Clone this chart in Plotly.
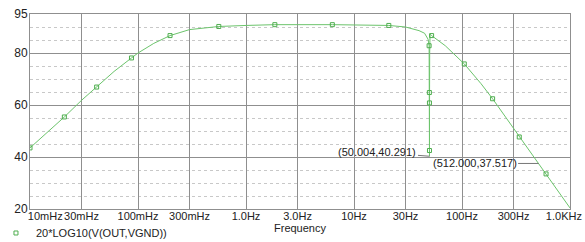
import math
import plotly.graph_objects as go

# ---- data ----
freq_hz = [0.01, 0.0208, 0.03, 0.0414, 0.06, 0.087, 0.1, 0.14, 0.198, 0.3, 0.56, 1.0,
           1.85, 6.3, 21, 30, 40, 45, 48.5, 49.6, 49.9, 49.95, 49.98, 50.004, 50.03,
           50.2, 50.6, 52.3, 70, 105, 150, 192, 300, 339, 512, 600, 1000]
gain_db = [43.5, 55.4, 61.8, 66.9, 72.9, 78.1, 80.0, 83.7, 86.7, 89.0, 90.2, 90.6,
           90.9, 90.9, 90.6, 90.0, 88.6, 87.6, 85.3, 82.8, 64.8, 60.8, 42.5, 40.291, 60.0,
           80.0, 87.2, 86.7, 82.8, 75.8, 68.2, 62.4, 51.0, 47.7, 37.517, 33.5, 20.4]

marker_freq = [0.01, 0.0208, 0.0414, 0.087, 0.198, 0.56, 1.85, 6.3, 21, 49.6, 49.9,
               49.95, 49.98, 52.3, 105, 192, 339, 600]
marker_gain = [43.5, 55.4, 66.9, 78.1, 86.7, 90.2, 90.9, 90.9, 90.6, 82.8, 64.8,
               60.8, 42.5, 86.7, 75.8, 62.4, 47.7, 33.5]

x_tickvals = [0.01, 0.03, 0.1, 0.3, 1, 3, 10, 30, 100, 300, 1000]
x_ticktext = ["10mHz", "30mHz", "100mHz", "300mHz", "1.0Hz", "3.0Hz", "10Hz", "30Hz",
              "100Hz", "300Hz", "1.0KHz"]
y_tickvals = [20, 40, 60, 80, 95]

cursor_points = [(50.004, 40.291), (512.000, 37.517)]
series_name = "20*LOG10(V(OUT,VGND))"

LINE_C = "#6cc46c"
MARK_C = "#4fae4f"
GRID_C = "#8f8f8f"
FONT = "Liberation Sans, Arial, sans-serif"
NB = "\u00a0"

# first / last labels are kept inside the frame like the original tool does
tick_labels = list(x_ticktext)
tick_labels[0] = NB * 10 + tick_labels[0]
tick_labels[-1] = tick_labels[-1] + NB * 4

fig = go.Figure()
fig.add_trace(go.Scatter(x=freq_hz, y=gain_db, mode="lines",
                         line=dict(color=LINE_C, width=1), showlegend=False,
                         hoverinfo="skip"))
fig.add_trace(go.Scatter(x=marker_freq, y=marker_gain, mode="markers",
                         marker=dict(symbol="square-open", size=4, color=MARK_C,
                                     line=dict(width=1, color=MARK_C)),
                         name=series_name, showlegend=True))

# cursor labels
offsets = [(-52, -4), (-64, 0)]
for (fx, fy), (ax, ay) in zip(cursor_points, offsets):
    fig.add_annotation(x=math.log10(fx), y=fy, xref="x", yref="y",
                       text=f"({fx:.3f},{fy:.3f})", showarrow=True, arrowhead=0,
                       arrowwidth=1, arrowcolor="#777777", ax=ax, ay=ay,
                       font=dict(family=FONT, size=11, color="#222222"),
                       borderpad=1)

fig.update_layout(
    width=585, height=242,
    margin=dict(l=30, r=15, t=14, b=33, autoexpand=False),
    paper_bgcolor="white", plot_bgcolor="white",
    font=dict(family=FONT, size=11, color="#222222"),
    legend=dict(orientation="h", x=-0.063, y=-0.123, yanchor="middle", xanchor="left",
                font=dict(family=FONT, size=11, color="#222222"),
                bgcolor="rgba(0,0,0,0)", itemwidth=30),
)
fig.update_xaxes(type="log", range=[-2, 3], tickvals=x_tickvals, ticktext=tick_labels,
                 showgrid=True, gridcolor=GRID_C, gridwidth=1,
                 showline=True, linecolor=GRID_C, linewidth=1, mirror=True,
                 ticks="", tickangle=0, tickfont=dict(size=11, color="#222222"),
                 ticklabeloverflow="allow", ticklabelstandoff=-3,
                 title=dict(text="Frequency", font=dict(size=11, color="#222222"),
                            standoff=0),
                 automargin=False, zeroline=False)
fig.update_yaxes(range=[20, 95], tickvals=y_tickvals, showgrid=True,
                 gridcolor=GRID_C, gridwidth=1,
                 showline=True, linecolor=GRID_C, linewidth=1, mirror=True,
                 ticks="", tickfont=dict(size=12, color="#222222"), ticklabelstandoff=-1,
                 ticklabeloverflow="allow",
                 minor=dict(dtick=5, tick0=0, showgrid=True, gridcolor="#c8c8c8",
                            griddash="dot", gridwidth=1),
                 automargin=False, zeroline=False)

fig.write_html("out.html", config={"displayModeBar": False},
               post_script="document.body.style.margin='0px';"
                           "document.body.style.padding='0px';")
